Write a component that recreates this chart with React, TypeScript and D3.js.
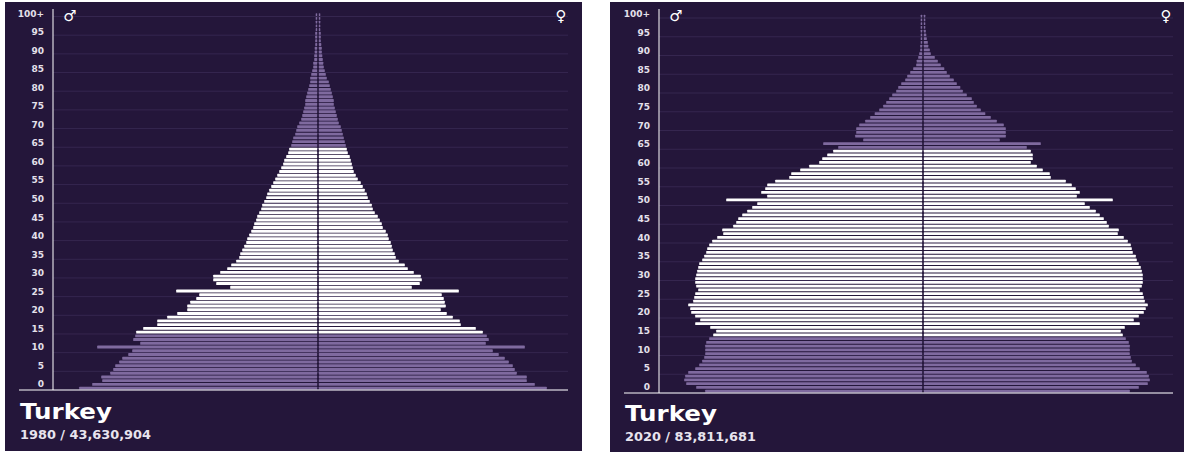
import React from "react";
import * as d3 from "d3";

const male1980 = [238,225,215,216,207,204,202,198,195,189,185,220,177,184,182,181,174,160,160,150,140,130,130,127,121,118,141,87,101,104,104,97,90,86,81,78,77,75,73,71,70,68,66,64,63,61,60,58,56,55,53,51,50,48,46,44,42,40,38,36,34,33,31,29,28,26,25,24,22,21,20,18,16,15,14,13,12,12,11,10,9,8,7,7,6,5,4,4,3,3,2.5,2.5,2,2,2,2,1.5,1.5,1.5,1.5,1.5];
const female1980 = [228,216,208,208,198,196,194,190,186,180,174,206,167,170,168,164,157,142,141,134,128,122,127,126,125,123,140,93,101,103,102,95,89,86,80,77,76,74,73,72,70,69,67,64,63,61,59,56,54,53,51,49,48,46,44,42,39,37,35,34,33,32,31,29,28,27,26,25,24,23,22,20,19,18,17,16,15,15,14,13,12,11,10,8,7,6,5,4.5,4,3.5,3,3,2.5,2,2,2,1.5,1.5,1.5,1.5,1.5];
const male2020 = [217,226,236,238,237,234,227,223,220,218,217,217,217,216,213,209,206,212,227,222,227,231,232,234,229,228,227,224,226,227,227,226,225,224,223,220,218,216,215,213,210,205,199,200,189,186,184,180,175,170,165,196,155,161,157,155,147,133,131,122,113,103,100,95,89,84,99,59,67,66,66,63,57,52,47.5,43,39,36,33,30,26,24,21,17,15,12,9,6,5.5,4,3,2,2,1.5,1.5,1.5,1.5,1.5,1.5,1.5,1.5];
const female2020 = [206,215,224,226,225,223,216,212,208,207,206,206,206,205,202,199,197,201,216,210,215,220,222,224,221,220,219,216,218,219,219,219,218,217,215,213,212,209,208,207,204,200,194,195,185,183,180,176,172,166,161,189,153,156,152,148,142,127,126,119,113,107,109,109,107,103,117,76,82,82,82,80,73,67,61.5,57,53,50,48,43,39,36.5,33,30,26,23,20.5,17,14,11,7,6,4.5,4,3,2.5,2,1.5,1.5,1.5,1.5];

const tickAges = d3.range(0, 101, 5);
const country = "Turkey";
const captions = ["1980 / 43,630,904", "2020 / 83,811,681"];

const BG = "#24163a";
const GRID = "#35264f";
const PURPLE = "#7f6a9f";
const FONT = "'DejaVu Sans', sans-serif";
const fmtAge = (a: number) => (a === 100 ? "100+" : String(a));
const working = (a: number) => a >= 15 && a < 65;

type P = {
  male: number[]; female: number[]; caption: string;
  x0: number; x1: number; top: number; bottom: number;
  axisX: number; center: number; right: number; baseStart: number;
  base: number; top100: number; label0: number; label100: number; textX: number; titleY: number; capY: number;
};

function Pyramid(p: P) {
  const ages = d3.range(0, 101);
  const y = d3.scaleLinear().domain([0, 100]).range([p.base, p.top100]);
  const labelY = d3.scaleLinear().domain([0, 100]).range([p.label0, p.label100]);
  const w = d3.scaleLinear().domain([0, 250]).range([0, p.right - p.center]);
  const step = y(0) - y(1);
  const h = step * 0.78;
  const gutter = 0.8;
  return (
    <g fontFamily={FONT}>
      <rect x={p.x0} y={p.top} width={p.x1 - p.x0} height={p.bottom - p.top} fill={BG} />
      {tickAges.map((a) => (
        <line key={a} x1={p.axisX} x2={p.right} y1={y(a)} y2={y(a)} stroke={GRID} strokeWidth={1} />
      ))}
      {ages.map((a) => {
        const yy = y(a) - step / 2 - h / 2;
        const fill = working(a) ? "#ffffff" : PURPLE;
        const mw = w(p.male[a]);
        const fw = w(p.female[a]);
        return (
          <g key={a} fill={fill}>
            <rect x={p.center - gutter - mw} y={yy} width={mw} height={h} rx={0.6} />
            <rect x={p.center + gutter} y={yy} width={fw} height={h} rx={0.6} />
          </g>
        );
      })}
      <line x1={p.axisX} x2={p.axisX} y1={9} y2={p.base} stroke="#fff" strokeWidth={1} />
      <line x1={p.baseStart} x2={p.right} y1={p.base} y2={p.base} stroke="#fff" strokeWidth={1} />
      {tickAges.map((a) => (
        <text key={a} x={p.axisX - 9} y={labelY(a)} dy="0.35em" textAnchor="end" fontSize={9} fontWeight={700} fill="#e4e0ea">
          {fmtAge(a)}
        </text>
      ))}
      <text x={p.axisX + 17} y={17.5} textAnchor="middle" dy="0.2em" fontSize={15} fill="#fff">♂</text>
      <text x={p.right - 7} y={17.5} textAnchor="middle" dy="0.2em" fontSize={15} fill="#fff">♀</text>
      <text x={p.textX} y={p.titleY} fontSize={21.5} fontWeight={700} textLength={92} lengthAdjust="spacingAndGlyphs" fill="#fff">{country}</text>
      <text x={p.textX} y={p.capY} fontSize={11.5} fontWeight={700} textLength={131} lengthAdjust="spacingAndGlyphs" fill="#e8e4ee">{p.caption}</text>
    </g>
  );
}

export default function App() {
  return (
    <svg width={1184} height={452} style={{ position: "absolute", left: 0, top: 0, background: "#fff" }}>
      <Pyramid male={male1980} female={female1980} caption={captions[0]}
        x0={5} x1={582} top={2} bottom={451} axisX={53} center={318} right={568} baseStart={19}
        base={390} top100={16.5} label0={384} label100={13.7} textX={20} titleY={418.5} capY={438.5} />
      <Pyramid male={male2020} female={female2020} caption={captions[1]}
        x0={610} x1={1184} top={2} bottom={452} axisX={659} center={923} right={1173} baseStart={624}
        base={393} top100={18} label0={386.7} label100={13.7} textX={625} titleY={421} capY={441} />
    </svg>
  );
}
